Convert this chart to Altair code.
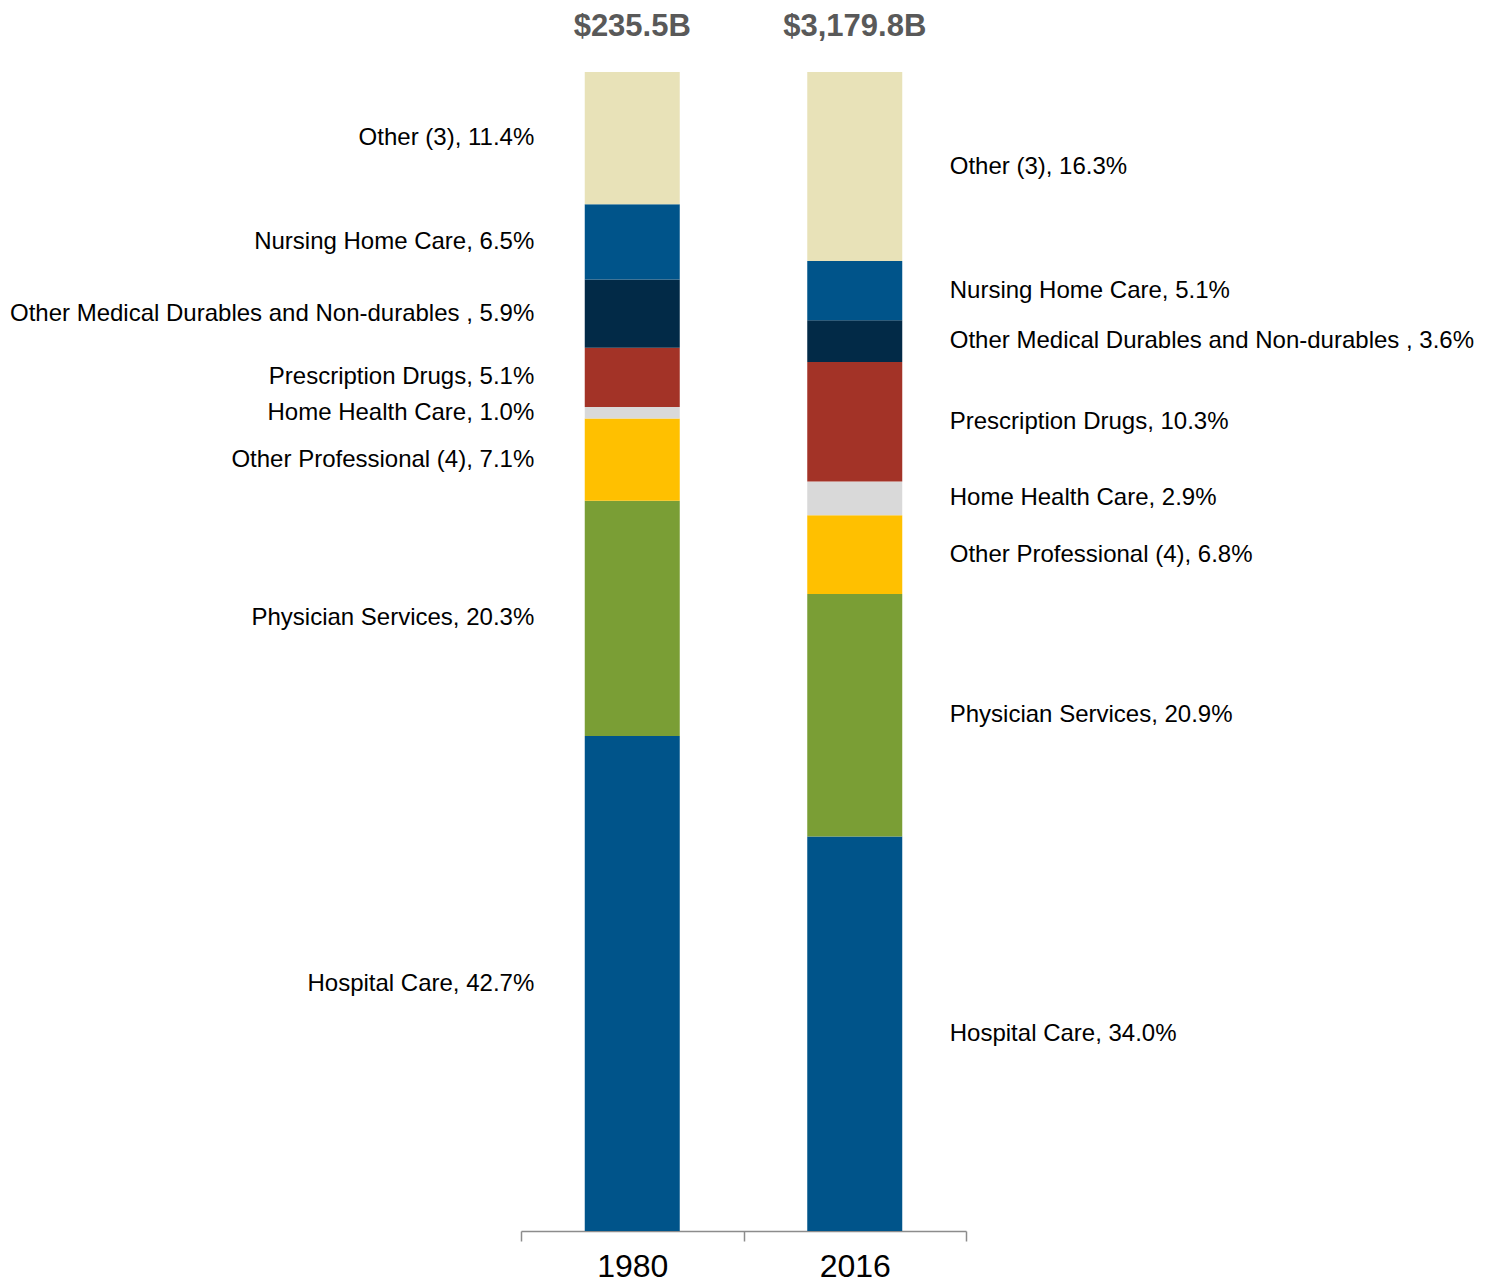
import altair as alt
import pandas as pd

categories = [
    "Hospital Care",
    "Physician Services",
    "Other Professional (4)",
    "Home Health Care",
    "Prescription Drugs",
    "Other Medical Durables and Non-durables ",
    "Nursing Home Care",
    "Other (3)",
]
pct_1980 = [42.7, 20.3, 7.1, 1.0, 5.1, 5.9, 6.5, 11.4]
pct_2016 = [34.0, 20.9, 6.8, 2.9, 10.3, 3.6, 5.1, 16.3]
years = ["1980", "2016"]
totals = ["$235.5B", "$3,179.8B"]
colors = ["#00548a", "#7a9e35", "#ffc000", "#d9d9d9", "#a33327", "#022a47", "#00548a", "#e8e2b8"]

rows = []
for yr, vals in zip(years, [pct_1980, pct_2016]):
    for i, (c, v) in enumerate(zip(categories, vals)):
        rows.append({"year": yr, "cat": c, "idx": i, "pct": v,
                     "label": f"{c}, {v:.1f}%"})
df = pd.DataFrame(rows)
tot_df = pd.DataFrame({"year": years, "total": totals})

FONT = "Liberation Sans"

xenc = alt.X("year:N", scale=alt.Scale(domain=years, paddingInner=0, paddingOuter=0),
             axis=alt.Axis(title=None, labelAngle=0, tickBand="extent", domainColor="#8c8c8c",
                           domainWidth=1.5, tickColor="#8c8c8c", tickWidth=1.5, tickSize=10,
                           labelFontSize=32, labelColor="#000000", labelFont=FONT,
                           labelPadding=10, grid=False))
yscale = alt.Scale(domain=[0, 1], nice=False)

base = alt.Chart(df).transform_stack(
    stack="pct", groupby=["year"], as_=["y0", "y1"],
    sort=[alt.SortField("idx", order="ascending")], offset="normalize"
).transform_calculate(mid="(datum.y0 + datum.y1) / 2")

bars = base.mark_bar(size=95).encode(
    x=xenc,
    y=alt.Y("y0:Q", scale=yscale, axis=None),
    y2="y1:Q",
    color=alt.Color("cat:N", scale=alt.Scale(domain=categories, range=colors), legend=None),
)

lab_left = base.transform_filter(alt.datum.year == "1980").mark_text(
    align="right", baseline="middle", dx=-98, fontSize=24, font=FONT, color="#000000"
).encode(x=alt.X("year:N"), y=alt.Y("mid:Q", scale=yscale), text="label:N")

lab_right = base.transform_filter(alt.datum.year == "2016").mark_text(
    align="left", baseline="middle", dx=95, fontSize=24, font=FONT, color="#000000"
).encode(x=alt.X("year:N"), y=alt.Y("mid:Q", scale=yscale), text="label:N")

tot = alt.Chart(tot_df).mark_text(
    align="center", baseline="alphabetic", dy=-36, fontSize=31, fontWeight="bold",
    font=FONT, color="#595959"
).encode(x=alt.X("year:N"), y=alt.datum(1, scale=yscale), text="total:N")

chart = alt.layer(bars, lab_left, lab_right, tot).properties(
    width=445, height=1159,
    autosize=alt.AutoSizeParams(type="none"),
    padding={"left": 513, "top": 64, "right": 512, "bottom": 56},
).configure(background="white").configure_view(stroke=None, strokeWidth=0)

chart.save("out.html", embed_options={"renderer": "svg", "actions": False})
